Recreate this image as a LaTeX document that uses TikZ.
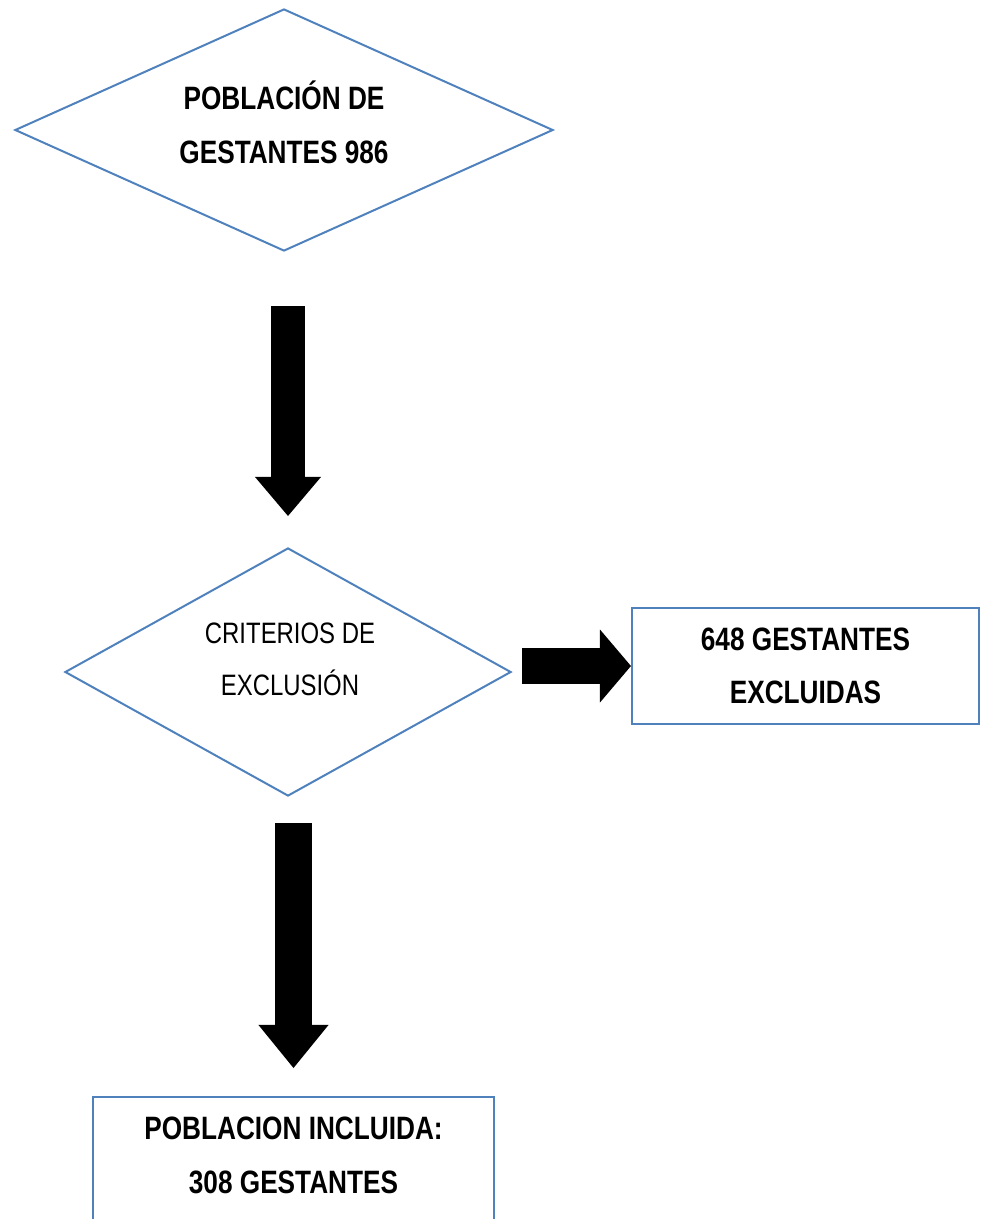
\documentclass[tikz,border=0pt]{standalone}
\usepackage{fontspec}
\setmainfont{Liberation Sans}[FakeStretch=0.81]
\usetikzlibrary{shapes.geometric,arrows.meta}
\definecolor{edgeblue}{RGB}{79,129,189}
\tikzset{
  diamondbox/.style={diamond, draw=edgeblue, line width=0.05cm, inner sep=0pt},
  plainbox/.style={rectangle, draw=edgeblue, line width=0.05cm, inner sep=0pt, align=center},
  boldtext/.style={font=\bfseries\fontsize{23}{38}\selectfont, align=center},
  thintext/.style={font=\fontsize{21}{37}\selectfont, align=center},
  blockarrow/.style={draw=black, line width=#1}
}

\begin{document}
\begin{tikzpicture}[x=0.025cm, y=-0.025cm]
				%%%%% START %%%%%
				\useasboundingbox (0,0) rectangle (987,1219);

				\node[diamondbox, minimum width=13.45cm, minimum height=6.05cm,
				      label={[name=popText, boldtext, yshift=0.1875cm]center:POBLACIÓN DE\\GESTANTES 986}] (pop) at (284,130) {};
				\node[diamondbox, minimum width=11.15cm, minimum height=6.2cm,
				      label={[name=critText, thintext, yshift=0.325cm, xshift=0.05cm]center:CRITERIOS DE\\EXCLUSIÓN}] (crit) at (288,672) {};
				\node[plainbox, boldtext, minimum width=8.675cm, minimum height=2.9cm] (excl) at (805.5,666) {648 GESTANTES\\EXCLUIDAS};
				\node[plainbox, minimum width=10.025cm, minimum height=4cm, anchor=north,
				      label={[name=inclText, boldtext, yshift=0.5375cm]center:POBLACION INCLUIDA:\\308 GESTANTES}] (incl) at (293.5,1096) {};

				\draw[blockarrow=0.825cm, -{Triangle[length=0.975cm, width=1.65cm, line width=0pt]}, shorten <=1.35cm, shorten >=0.775cm] (crit.north |- pop.south) -- (crit.north);
				\draw[blockarrow=0.9cm, -{Triangle[length=0.775cm, width=1.825cm, line width=0pt]}, shorten <=0.25cm] (crit.east |- excl.west) -- (excl.west);
				\draw[blockarrow=0.925cm, -{Triangle[length=1.075cm, width=1.75cm, line width=0pt]}, shorten <=0.65cm, shorten >=0.7cm] (incl.north |- crit.south) -- (incl.north);
				%%%%% START %%%%%
\end{tikzpicture}
\end{document}
